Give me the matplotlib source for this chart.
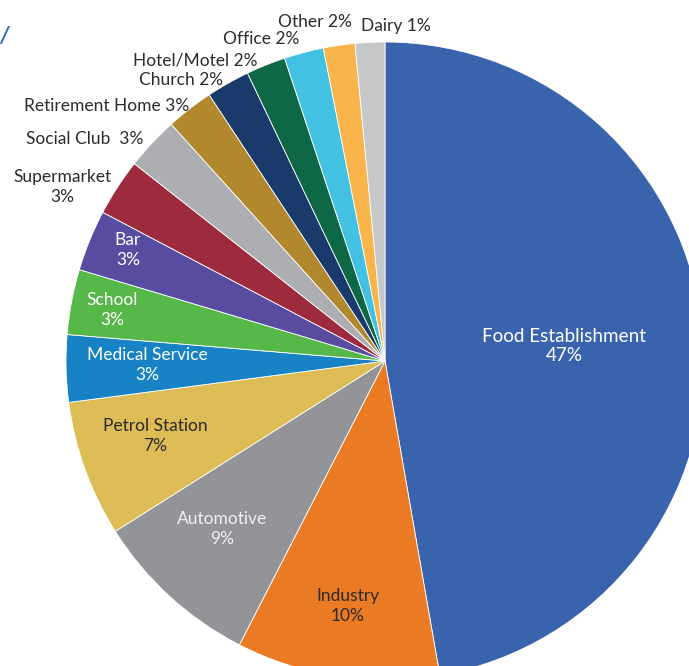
import matplotlib.pyplot as plt
import numpy as np

plt.rcParams['font.family'] = ['Lato', 'DejaVu Sans']

# slice sizes (share of the circle, %)
categories = ['Food Establishment', 'Industry', 'Automotive', 'Petrol Station',
              'Medical Service', 'School', 'Bar', 'Supermarket', 'Social Club',
              'Retirement Home', 'Church', 'Hotel/Motel', 'Office', 'Other', 'Dairy']
shares = [47.3, 10.3, 8.5, 6.9, 3.4, 3.3, 3.1, 2.9, 2.7, 2.4, 2.2, 2.0, 2.0, 1.6, 1.5]
shown_pct = ['47%', '10%', '9%', '7%', '3%', '3%', '3%', '3%', '3%', '3%',
             '2%', '2%', '2%', '2%', '1%']

colors = ['#3A63AE', '#EB7A24', '#939497', '#DDBB55', '#1783C4', '#56B848',
          '#574CA0', '#9D2B3D', '#ADAEB1', '#B2882F', '#1B3A6C', '#0E6845',
          '#43C1E3', '#F9B44B', '#C6C7C9']

W, H = 689, 666
fig = plt.figure(figsize=(W / 100, H / 100), dpi=100)
ax = fig.add_axes([0, 0, 1, 1])

# pie drawn in pixel space; y is flipped, so go counterclockwise from -90 deg
ax.pie(shares, colors=colors, center=(385, 361), radius=319, startangle=-90,
       counterclock=True, frame=True,
       wedgeprops=dict(edgecolor='white', linewidth=0.6))
ax.set_xlim(0, W)
ax.set_ylim(H, 0)
ax.set_aspect('equal')
ax.axis('off')

dark = '#2B2B2B'
# label layout: (x, y, text style, colour)
label_spots = [
    (564, 346, 'big', 'white'),
    (348, 606, 'two', dark),
    (222, 529, 'two', '#F0F0F0'),
    (155, 436, 'two', dark),
    (147, 365, 'two', 'white'),
    (112, 310, 'two', 'white'),
    (128, 250, 'two', 'white'),
    (62, 187, 'two', dark),
    (85, 139, 'one2', dark),
    (107, 106, 'one', dark),
    (181, 80, 'one', dark),
    (195, 60, 'one', dark),
    (261, 39, 'one', dark),
    (315, 22, 'one', dark),
    (396, 26, 'one', dark),
]

for name, pct, (x, y, style, col) in zip(categories, shown_pct, label_spots):
    size, ls = 12.5, 1.28
    if style == 'big':
        txt = name + '\n' + pct
        size, ls = 13.6, 1.18
    elif style == 'two':
        txt = name + '\n' + pct
    elif style == 'one2':
        txt = name + '  ' + pct
    else:
        txt = name + ' ' + pct
    ax.text(x, y, txt, ha='center', va='center', color=col, fontsize=size,
            linespacing=ls)

# cut-off title fragment at the top left
ax.text(-1, 37, '/', color='#2F6DB5', fontsize=16, style='italic',
        fontweight='bold', ha='left', va='center')

fig.savefig('out.png', dpi=100)
